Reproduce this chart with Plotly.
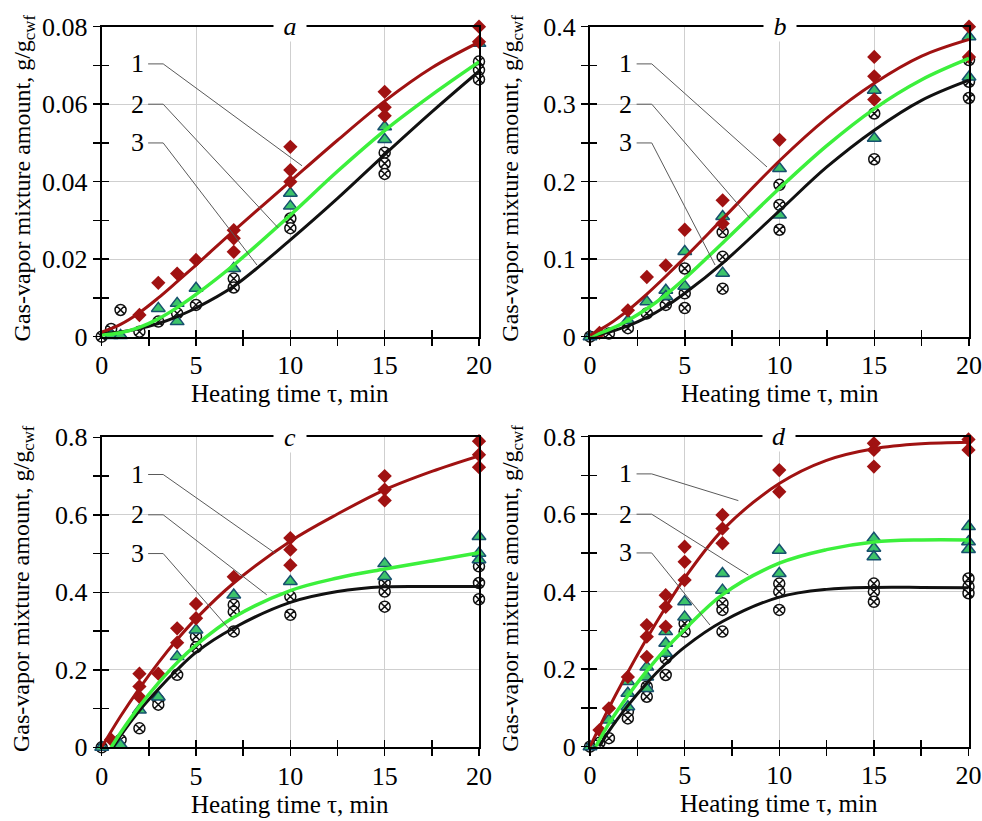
import plotly.graph_objects as go

W, H = 982, 821

# ---------------- data ----------------
# Panel a
A1_X = [2, 3, 4, 5, 7, 7, 7, 10, 10, 10, 15, 15, 15, 20, 20]
A1_Y = [0.0056, 0.0139, 0.0163, 0.0198, 0.0275, 0.0254, 0.0219, 0.049, 0.043, 0.040, 0.0632, 0.0592, 0.057, 0.080, 0.0761]
A2_X = [0.5, 1, 3, 4, 4, 5, 7, 10, 10, 15, 15, 20]
A2_Y = [0.0003, 0.0003, 0.0073, 0.0086, 0.0039, 0.0125, 0.0176, 0.037, 0.0337, 0.0542, 0.0509, 0.0757]
A3_X = [0, 0.5, 1, 2, 3, 4, 5, 7, 7, 10, 10, 15, 15, 15, 20, 20, 20]
A3_Y = [0, 0.002, 0.0069, 0.0013, 0.0039, 0.006, 0.0082, 0.015, 0.0127, 0.0305, 0.028, 0.0475, 0.0447, 0.042, 0.071, 0.0688, 0.0664]

# Panel b
B1_X = [0.5, 2, 3, 4, 5, 7, 7, 10, 15, 15, 15, 20, 20]
B1_Y = [0.005, 0.034, 0.077, 0.092, 0.138, 0.176, 0.146, 0.254, 0.361, 0.336, 0.306, 0.40, 0.361]
B2_X = [0, 2, 3, 4, 4, 5, 5, 7, 7, 10, 10, 15, 15, 20, 20]
B2_Y = [0, 0.021, 0.045, 0.06, 0.052, 0.11, 0.065, 0.155, 0.082, 0.217, 0.157, 0.318, 0.256, 0.387, 0.335]
B3_X = [0, 1, 2, 3, 4, 5, 5, 5, 7, 7, 7, 10, 10, 10, 15, 15, 20, 20, 20]
B3_Y = [0, 0.004, 0.011, 0.03, 0.041, 0.088, 0.056, 0.037, 0.135, 0.103, 0.062, 0.196, 0.17, 0.138, 0.288, 0.229, 0.357, 0.329, 0.308]

# Panel c
C1_X = [0.5, 2, 2, 2, 3, 4, 4, 5, 5, 7, 10, 10, 10, 15, 15, 15, 20, 20, 20]
C1_Y = [0.02, 0.19, 0.157, 0.13, 0.19, 0.307, 0.27, 0.37, 0.333, 0.44, 0.54, 0.51, 0.47, 0.70, 0.665, 0.637, 0.79, 0.755, 0.723]
C2_X = [0, 1, 2, 3, 4, 5, 7, 10, 15, 15, 20, 20, 20]
C2_Y = [0, 0.006, 0.096, 0.13, 0.234, 0.303, 0.393, 0.428, 0.474, 0.441, 0.544, 0.501, 0.484]
C3_X = [0, 1, 2, 3, 3, 4, 5, 5, 7, 7, 7, 10, 10, 15, 15, 15, 20, 20, 20]
C3_Y = [0, 0.019, 0.049, 0.122, 0.11, 0.187, 0.286, 0.258, 0.368, 0.35, 0.299, 0.389, 0.342, 0.424, 0.402, 0.363, 0.467, 0.424, 0.382]

# Panel d
D1_X = [0.5, 1, 2, 3, 3, 3, 4, 4, 4, 5, 5, 5, 7, 7, 7, 10, 10, 15, 15, 15, 20, 20]
D1_Y = [0.043, 0.099, 0.18, 0.314, 0.284, 0.232, 0.391, 0.361, 0.31, 0.516, 0.477, 0.43, 0.598, 0.563, 0.525, 0.714, 0.658, 0.783, 0.766, 0.723, 0.793, 0.766]
D2_X = [0, 1, 2, 2, 2, 3, 3, 3, 4, 4, 4, 5, 5, 7, 7, 10, 10, 15, 15, 15, 20, 20, 20]
D2_Y = [0, 0.069, 0.168, 0.138, 0.103, 0.206, 0.18, 0.15, 0.297, 0.267, 0.241, 0.374, 0.335, 0.447, 0.404, 0.507, 0.447, 0.538, 0.512, 0.49, 0.568, 0.529, 0.509]
D3_X = [0, 0.5, 1, 2, 2, 3, 3, 4, 4, 5, 5, 7, 7, 7, 10, 10, 10, 15, 15, 15, 20, 20, 20]
D3_Y = [0, 0.01, 0.022, 0.09, 0.073, 0.155, 0.129, 0.228, 0.185, 0.318, 0.297, 0.37, 0.353, 0.297, 0.421, 0.4, 0.353, 0.421, 0.4, 0.374, 0.434, 0.413, 0.396]

# Fitted curves
CURVE_X = [0, 1, 2, 3, 4, 5, 7, 10, 12.5, 15, 17.5, 20]
A_C1 = [0.0012, 0.0032, 0.0062, 0.0100, 0.0142, 0.0185, 0.0273, 0.0401, 0.0507, 0.0608, 0.0694, 0.0760]
A_C2 = [0.0004, 0.0010, 0.0024, 0.0046, 0.0075, 0.0109, 0.0185, 0.0314, 0.0427, 0.0532, 0.0624, 0.0709]
A_C3 = [0.0008, 0.0012, 0.0021, 0.0034, 0.0052, 0.0074, 0.0130, 0.0250, 0.0357, 0.0470, 0.0580, 0.0685]
B_C1 = [0.002, 0.016, 0.034, 0.055, 0.078, 0.102, 0.152, 0.227, 0.282, 0.327, 0.362, 0.3835]
B_C2 = [0, 0.009, 0.021, 0.036, 0.054, 0.075, 0.121, 0.1915, 0.2465, 0.294, 0.3315, 0.359]
B_C3 = [0, 0.006, 0.014, 0.025, 0.039, 0.056, 0.095, 0.1625, 0.219, 0.2665, 0.305, 0.331]
C_C1 = [0, 0.08, 0.152, 0.218, 0.278, 0.332, 0.424, 0.532, 0.602, 0.6645, 0.712, 0.752]
C_C2_X = [0.5, 1, 2, 3, 4, 5, 7, 10, 12.5, 15, 17.5, 20]
C_C2 = [0, 0.0375, 0.1055, 0.1655, 0.2185, 0.2635, 0.3355, 0.4045, 0.437, 0.46, 0.481, 0.502]
C_C3_X = [0.6, 1, 2, 3, 4, 5, 7, 10, 12.5, 15, 17.5, 20]
C_C3 = [0, 0.03, 0.095, 0.15, 0.2, 0.245, 0.308, 0.374, 0.402, 0.414, 0.415, 0.415]
D_C1 = [0, 0.1, 0.192, 0.279, 0.36, 0.435, 0.559, 0.679, 0.739, 0.769, 0.7815, 0.7855]
D_C2_X = [0.3, 1, 2, 3, 4, 5, 7, 10, 12.5, 15, 17.5, 20]
D_C2 = [0, 0.0595, 0.1315, 0.1955, 0.2525, 0.3025, 0.3925, 0.4735, 0.5085, 0.5285, 0.5335, 0.5335]
D_C3_X = [0.5, 1, 2, 3, 4, 5, 7, 10, 12.5, 15, 17.5, 20]
D_C3 = [0, 0.04, 0.106, 0.164, 0.214, 0.257, 0.323, 0.386, 0.406, 0.411, 0.411, 0.41]

# Axis ticks
X_TICKS = [0, 5, 10, 15, 20]
X_MINOR = [2.5, 7.5, 12.5, 17.5]
A_YTICKS = [0, 0.02, 0.04, 0.06, 0.08]
A_YTEXT = ["0", "0.02", "0.04", "0.06", "0.08"]
A_YMINOR = [0.01, 0.03, 0.05, 0.07]
B_YTICKS = [0, 0.1, 0.2, 0.3, 0.4]
B_YTEXT = ["0", "0.1", "0.2", "0.3", "0.4"]
B_YMINOR = [0.05, 0.15, 0.25, 0.35]
CD_YTICKS = [0, 0.2, 0.4, 0.6, 0.8]
CD_YTEXT = ["0", "0.2", "0.4", "0.6", "0.8"]
CD_YMINOR = [0.1, 0.3, 0.5, 0.7]

PANEL_LETTERS = ["a", "b", "c", "d"]
CURVE_LABELS = ["1", "2", "3"]
X_TITLE = "Heating time τ, min"
Y_TITLE = "Gas-vapor mixture amount, g/g<sub>cwf</sub>"
# leader-line end points on curves 1,2,3 (data units)
A_LEAD = [(10.62, 0.0441), (9.35, 0.0281), (8.23, 0.0185)]
B_LEAD = [(9.34, 0.219), (8.44, 0.153), (6.6, 0.0925)]
C_LEAD = [(9.19, 0.501), (8.75, 0.3935), (6.8, 0.303)]
D_LEAD = [(7.84, 0.635), (8.37, 0.443), (6.34, 0.314)]

# ---------------- styling ----------------
FONT = "Liberation Serif, Times New Roman, serif"
RED = "#A01212"
GREEN_LINE = "#3CF03C"
GREEN_FILL = "#3CC46A"
GREEN_EDGE = "#17506E"
BLACK = "#111111"

# panel pixel boxes in the picture: left, right, top, bottom
BOXES = [(101.7, 479.0, 26.7, 336.7), (590.0, 969.0, 26.7, 336.7),
         (101.7, 479.0, 437.3, 747.3), (590.0, 968.5, 436.7, 746.7)]

panels = [
    dict(s=[(A1_X, A1_Y), (A2_X, A2_Y), (A3_X, A3_Y)],
         c=[(CURVE_X, A_C1), (CURVE_X, A_C2), (CURVE_X, A_C3)],
         ymax=0.08, yt=A_YTICKS, ytt=A_YTEXT, ym=A_YMINOR, lead=A_LEAD),
    dict(s=[(B1_X, B1_Y), (B2_X, B2_Y), (B3_X, B3_Y)],
         c=[(CURVE_X, B_C1), (CURVE_X, B_C2), (CURVE_X, B_C3)],
         ymax=0.4, yt=B_YTICKS, ytt=B_YTEXT, ym=B_YMINOR, lead=B_LEAD),
    dict(s=[(C1_X, C1_Y), (C2_X, C2_Y), (C3_X, C3_Y)],
         c=[(CURVE_X, C_C1), (C_C2_X, C_C2), (C_C3_X, C_C3)],
         ymax=0.8, yt=CD_YTICKS, ytt=CD_YTEXT, ym=CD_YMINOR, lead=C_LEAD),
    dict(s=[(D1_X, D1_Y), (D2_X, D2_Y), (D3_X, D3_Y)],
         c=[(CURVE_X, D_C1), (D_C2_X, D_C2), (D_C3_X, D_C3)],
         ymax=0.8, yt=CD_YTICKS, ytt=CD_YTEXT, ym=CD_YMINOR, lead=D_LEAD),
]

marker_styles = [
    dict(symbol="diamond", size=11, color=RED, line=dict(width=0)),
    dict(symbol="triangle-up", size=12, color=GREEN_FILL, line=dict(color=GREEN_EDGE, width=1.5)),
    dict(symbol="circle-x", size=11, color="white", line=dict(color=BLACK, width=1.5)),
]
line_styles = [dict(color=RED, width=3), dict(color=GREEN_LINE, width=3.5), dict(color=BLACK, width=3)]

fig = go.Figure()
layout = dict(width=W, height=H, margin=dict(l=0, r=0, t=0, b=0, autoexpand=False), autosize=False,
              template="none",
              paper_bgcolor="white", plot_bgcolor="white", showlegend=False,
              font=dict(family=FONT, size=25, color="black"))
annotations = []
shapes = []


def px2x(p):
    return p / W


def px2y(p):
    return 1 - p / H


for i, (p, box) in enumerate(zip(panels, BOXES)):
    n = i + 1
    xs = "x" if n == 1 else f"x{n}"
    ys = "y" if n == 1 else f"y{n}"
    ox, oy = f"x{n + 4}", f"y{n + 4}"
    L, R, T, B = box
    for k in [2, 1, 0]:
        sx, sy = p["s"][k]
        fig.add_trace(go.Scatter(x=sx, y=sy, mode="markers", marker=marker_styles[k],
                                 xaxis=xs, yaxis=ys, cliponaxis=False, hoverinfo="skip"))
    for k in [2, 1, 0]:
        cx, cy = p["c"][k]
        fig.add_trace(go.Scatter(x=cx, y=cy, mode="lines",
                                 line=dict(shape="spline", smoothing=1.0, **line_styles[k]),
                                 xaxis=xs, yaxis=ys, hoverinfo="skip"))
    # empty trace on overlay axes (inner halves of the crossing ticks)
    fig.add_trace(go.Scatter(x=[None], y=[None], xaxis=ox, yaxis=oy, showlegend=False, hoverinfo="skip"))

    ymax = p["ymax"]
    xd = [px2x(L), px2x(R)]
    yd = [px2y(B), px2y(T)]
    xkey = "xaxis" if n == 1 else f"xaxis{n}"
    ykey = "yaxis" if n == 1 else f"yaxis{n}"
    ct = dict(tickcolor="black", tickwidth=1.5, ticklen=7)
    layout[xkey] = dict(domain=xd, anchor=ys, range=[0, 20], tickvals=X_TICKS, automargin=False,
                        ticks="outside", **ct, ticklabelstandoff=-3,
                        minor=dict(tickvals=X_MINOR, ticks="outside", ticklen=7, tickwidth=1.5,
                                   tickcolor="black", showgrid=False),
                        showgrid=True, gridcolor="#cfcfcf", gridwidth=1, zeroline=False,
                        showline=True, linecolor="black", linewidth=2, mirror=True,
                        tickfont=dict(family=FONT, size=26), fixedrange=True)
    layout[ykey] = dict(domain=yd, anchor=xs, range=[0, ymax], tickvals=p["yt"], ticktext=p["ytt"],
                        automargin=False, ticks="outside", **ct,
                        minor=dict(tickvals=p["ym"], ticks="outside", ticklen=7, tickwidth=1.5,
                                   tickcolor="black", showgrid=False),
                        showgrid=True, gridcolor="#cfcfcf", gridwidth=1, zeroline=False,
                        showline=True, linecolor="black", linewidth=2, mirror=True,
                        tickfont=dict(family=FONT, size=26), fixedrange=True)
    layout[f"xaxis{n + 4}"] = dict(overlaying=xs, anchor=oy, range=[0, 20], tickvals=X_TICKS,
                                   automargin=False, ticks="inside", **ct, showticklabels=False,
                                   minor=dict(tickvals=X_MINOR, ticks="inside", ticklen=7, tickwidth=1.5,
                                              tickcolor="black", showgrid=False),
                                   showgrid=False, zeroline=False, showline=False, fixedrange=True)
    layout[f"yaxis{n + 4}"] = dict(overlaying=ys, anchor=ox, range=[0, ymax], tickvals=p["yt"],
                                   automargin=False, ticks="inside", **ct, showticklabels=False,
                                   minor=dict(tickvals=p["ym"], ticks="inside", ticklen=7, tickwidth=1.5,
                                              tickcolor="black", showgrid=False),
                                   showgrid=False, zeroline=False, showline=False, fixedrange=True)

    # panel letter on the top border
    annotations.append(dict(text=f"<i>{PANEL_LETTERS[i]}</i>", xref=f"{xs} domain", yref=f"{ys} domain",
                            x=0.5, y=1.0, showarrow=False, bgcolor="white", borderpad=0,
                            font=dict(family=FONT, size=26), xanchor="center", yanchor="middle",
                            width=32))
    # axis titles
    annotations.append(dict(text=X_TITLE, xref="paper", yref="paper",
                            x=px2x((L + R) / 2), y=px2y(B + 57), showarrow=False,
                            font=dict(family=FONT, size=25), xanchor="center", yanchor="middle"))
    annotations.append(dict(text=Y_TITLE, xref="paper", yref="paper",
                            x=px2x(L - 78), y=px2y((T + B) / 2 - 4), showarrow=False, textangle=-90,
                            font=dict(family=FONT, size=24), xanchor="center", yanchor="middle"))
    # curve labels with leader lines
    label_fy = [0.88, 0.75, 0.625]
    for k in range(3):
        ly = label_fy[k] * ymax
        annotations.append(dict(text=CURVE_LABELS[k], xref=xs, yref=ys, x=0.094 * 20, y=ly,
                                showarrow=False, font=dict(family=FONT, size=26),
                                xanchor="center", yanchor="middle"))
        ex, ey = p["lead"][k]
        x0, x1 = 0.123 * 20, 0.163 * 20
        shapes.append(dict(type="path", xref=xs, yref=ys,
                           path=f"M {x0},{ly} L {x1},{ly} L {ex},{ey}",
                           line=dict(color="#5a5a5a", width=1)))

layout["annotations"] = annotations
layout["shapes"] = shapes
fig.update_layout(**layout)
# remove the default page margin so the figure fills the browser window exactly
fig.write_html("out.html", config={"displayModeBar": False, "staticPlot": True},
               post_script="document.body.style.margin='0';document.documentElement.style.overflow='hidden';")
